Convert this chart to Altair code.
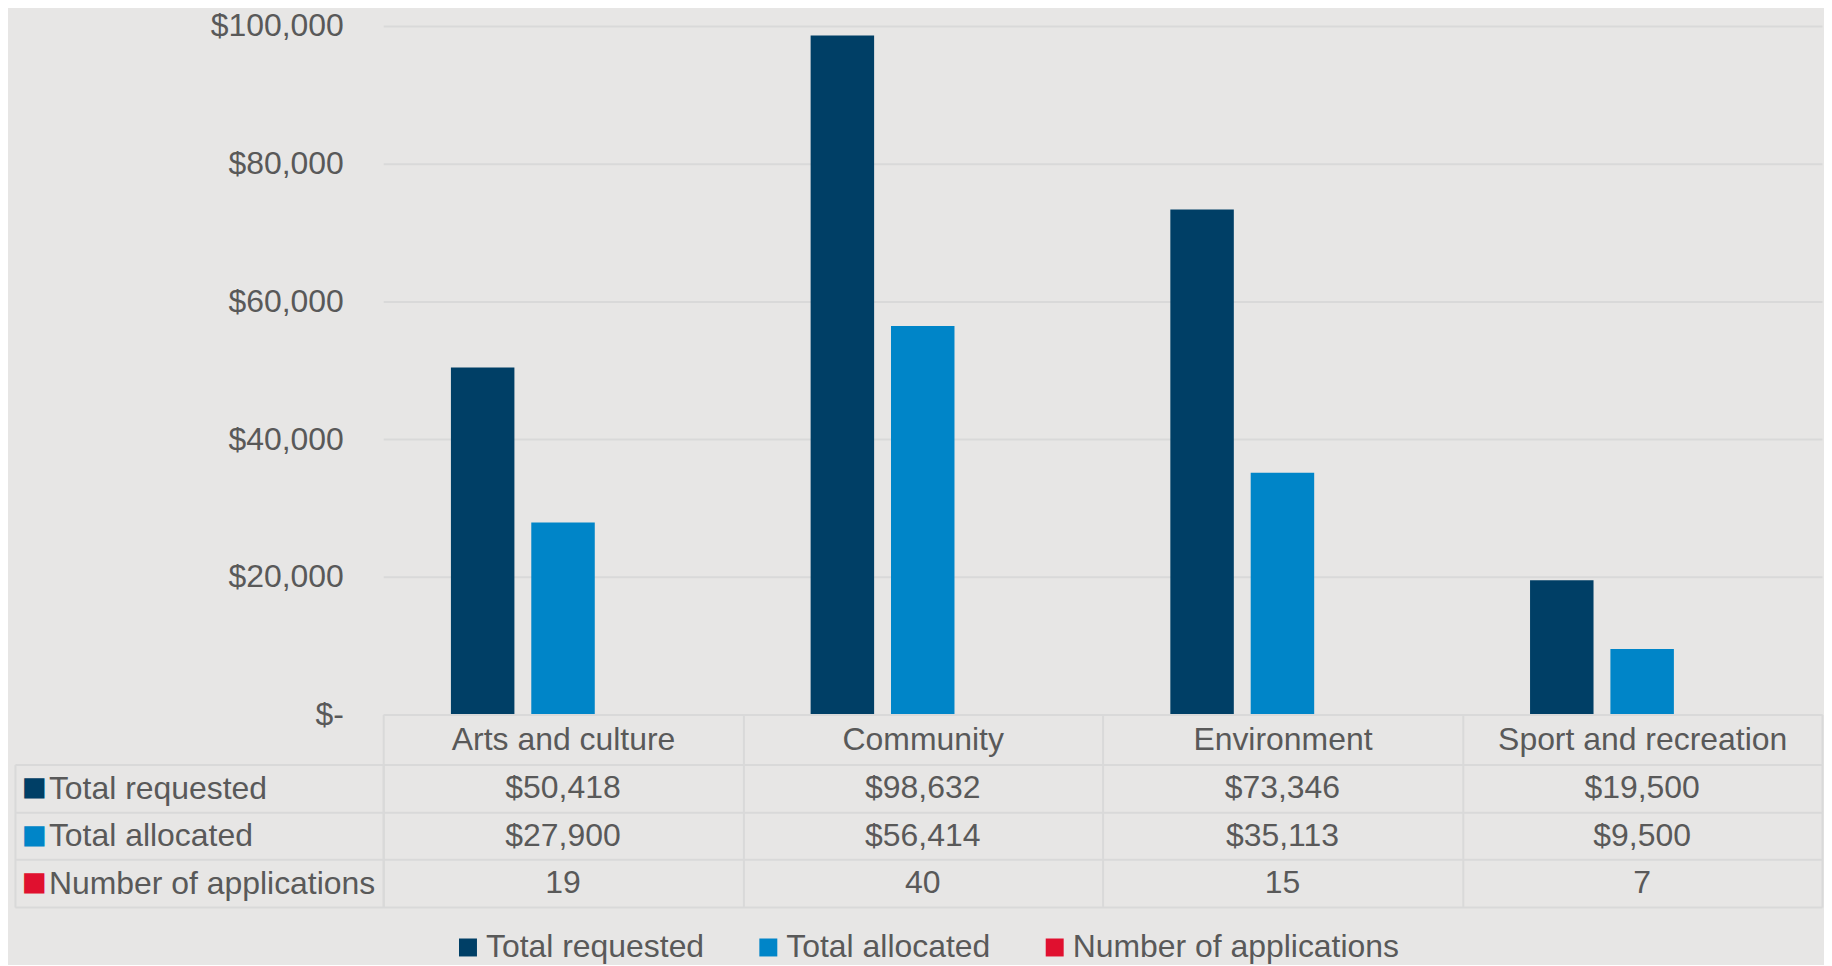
import altair as alt
import pandas as pd

categories = ["Arts and culture", "Community", "Environment", "Sport and recreation"]
series = ["Total requested", "Total allocated", "Number of applications"]
total_requested = [50418, 98632, 73346, 19500]
total_allocated = [27900, 56414, 35113, 9500]
num_applications = [19, 40, 15, 7]
y_ticks = [0, 20000, 40000, 60000, 80000, 100000]
colors = ["#003f66", "#0085c8", "#e0102f"]

BG = "#e7e6e5"
GRID = "#d9d9d9"
TXT = "#595959"
FONT = "Liberation Sans"

rows = []
for s, vals in zip(series, [total_requested, total_allocated, num_applications]):
    for c, v in zip(categories, vals):
        label = str(v) if s == "Number of applications" else "${:,}".format(v)
        rows.append({"category": c, "series": s, "value": v, "label": label})
df = pd.DataFrame(rows)
swatch_df = pd.DataFrame({"series": series})

W = 1442
H = 690
ROW_H = 143
LABEL_COL = 369

x_scale = alt.Scale(domain=categories, paddingInner=0, paddingOuter=0)
row_scale = alt.Scale(domain=series, paddingInner=0, paddingOuter=0)

bars = alt.Chart(df).mark_bar().encode(
    x=alt.X("category:N", scale=x_scale, sort=categories, title=None,
            axis=alt.Axis(labelFontSize=32, labelColor=TXT, labelAngle=0,
                          labelBaseline="middle", labelPadding=-25, ticks=True, tickSize=50,
                          tickBand="extent", tickColor=GRID, tickWidth=2, zindex=1,
                          domainColor=GRID, domainWidth=2, grid=False, labelLimit=500)),
    xOffset=alt.XOffset("series:N", sort=series,
                        scale=alt.Scale(domain=series, paddingInner=0.21, paddingOuter=0.843)),
    y=alt.Y("value:Q", scale=alt.Scale(domain=[0, 100000], nice=False), title=None,
            axis=alt.Axis(values=y_ticks,
                          labelExpr="datum.value == 0 ? '$-\u00a0\u00a0' : '$' + format(datum.value, ',')",
                          labelFontSize=32, labelColor=TXT, labelPadding=40,
                          ticks=False, domain=False, gridColor=GRID, gridWidth=2)),
    color=alt.Color("series:N", sort=series, scale=alt.Scale(domain=series, range=colors),
                    legend=alt.Legend(orient="none", legendX=69, legendY=907.5,
                                      direction="horizontal", title=None, padding=0,
                                      symbolType="square", symbolSize=324, symbolStrokeWidth=0,
                                      labelFontSize=32, labelColor=TXT, labelLimit=600,
                                      labelOffset=2, columnPadding=48)),
).properties(width=W, height=H)

cells = alt.Chart(df).mark_text(fontSize=32, color=TXT, baseline="middle").encode(
    x=alt.X("category:N", scale=x_scale, sort=categories, title=None,
            axis=alt.Axis(labels=False, ticks=False, domain=False, grid=True,
                          tickBand="extent", gridColor=GRID, gridWidth=2)),
    y=alt.Y("series:N", scale=row_scale, sort=series, title=None,
            axis=alt.Axis(orient="left", tickBand="extent", ticks=True, tickSize=LABEL_COL,
                          tickColor=GRID, tickWidth=2, domain=True, domainColor=GRID,
                          domainWidth=2, grid=True, gridColor=GRID, gridWidth=2,
                          labelAlign="left", labelPadding=-33.5, labelFontSize=32,
                          labelColor=TXT, labelLimit=500, labelBaseline="middle")),
    text="label:N",
)

swatches = alt.Chart(swatch_df).mark_point(opacity=0).encode(
    y=alt.Y("series:N", scale=row_scale, sort=series, title=None,
            axis=alt.Axis(orient="left", offset=LABEL_COL, ticks=False, domain=True,
                          domainColor=GRID, domainWidth=2, grid=False,
                          labelExpr="'\u25a0'", labelAlign="left", labelPadding=-6,
                          labelFontSize=42, labelBaseline="middle",
                          labelColor={"condition": [
                              {"test": "datum.value === 'Total requested'", "value": colors[0]},
                              {"test": "datum.value === 'Total allocated'", "value": colors[1]}],
                              "value": colors[2]})),
)

table = alt.layer(cells, swatches).resolve_axis(y="independent").properties(width=W, height=ROW_H)

chart = alt.vconcat(bars, table, spacing=50, bounds="flush").properties(
    background=BG,
    padding={"left": 5, "top": 0, "right": 0, "bottom": 0},
).configure(font=FONT).configure_view(stroke="transparent")

chart.save("out.html", embed_options={"renderer": "svg", "actions": False})
